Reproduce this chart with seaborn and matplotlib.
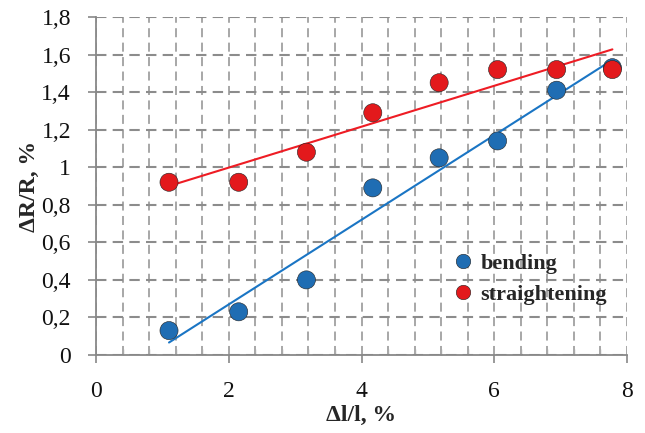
import numpy as np
import pandas as pd
import matplotlib
matplotlib.use("Agg")
import matplotlib.pyplot as plt
import seaborn as sns
from matplotlib.ticker import FuncFormatter, MultipleLocator

strain = [1.10, 2.15, 3.17, 4.17, 5.17, 6.05, 6.94, 7.78]
bending = [0.13, 0.23, 0.40, 0.89, 1.05, 1.14, 1.41, 1.53]
straightening = [0.92, 0.92, 1.08, 1.29, 1.45, 1.52, 1.52, 1.52]
series_names = ["bending", "straightening"]
colors = {"bending": "#1f6db3", "straightening": "#e3191c"}
line_colors = {"bending": "#1a75c4", "straightening": "#ee1c24"}

df = pd.DataFrame({
    "x": strain * 2,
    "y": bending + straightening,
    "series": [series_names[0]] * len(strain) + [series_names[1]] * len(strain),
})

FAM = "Liberation Serif"
sns.set_style("white")
plt.rcParams["font.family"] = [FAM, "DejaVu Serif"]

fig = plt.figure(figsize=(6.45, 4.33), dpi=100)
ax = fig.add_axes([96 / 645, 1 - 355 / 433, (627 - 96) / 645, (355 - 17) / 433])

ax.set_xlim(0, 8)
ax.set_ylim(0, 1.8)
ax.xaxis.set_major_locator(MultipleLocator(2))
ax.xaxis.set_minor_locator(MultipleLocator(0.4))
ax.yaxis.set_major_locator(MultipleLocator(0.2))

fmt = FuncFormatter(lambda v, p: f"{v:.1f}".rstrip("0").rstrip(".").replace(".", ","))
ax.yaxis.set_major_formatter(fmt)
ax.xaxis.set_major_formatter(fmt)

ax.grid(False)
ax.xaxis.grid(True, which="minor", linestyle=(0, (5, 3)), color="#a0a0a0", linewidth=1.3)
ax.xaxis.grid(True, which="major", linestyle=(0, (5, 3)), color="#a0a0a0", linewidth=1.3)
ax.yaxis.grid(True, which="major", linestyle=(0, (5, 3)), color="#8c8c8c", linewidth=1.5)
ax.set_axisbelow(True)

for name in series_names:
    sub = df[df.series == name]
    sns.regplot(data=sub, x="x", y="y", scatter=False, ci=None, truncate=True,
                ax=ax, line_kws=dict(color=line_colors[name], linewidth=1.5, zorder=3))

sns.scatterplot(data=df, x="x", y="y", hue="series", palette=colors, s=170,
                edgecolor="#222222", linewidth=0.4, ax=ax, zorder=4, legend=True)

for s in ["top", "right"]:
    ax.spines[s].set_visible(False)
for s in ["left", "bottom"]:
    ax.spines[s].set_color("#888888")
    ax.spines[s].set_linewidth(1.3)
    ax.spines[s].set_zorder(5)

ax.tick_params(axis="both", which="major", direction="out", length=6, width=1.2,
               color="#888888", labelsize=17, labelcolor="#111111", left=True, bottom=True)
ax.tick_params(axis="x", which="major", pad=13)
ax.tick_params(axis="y", which="major", pad=12)
ax.tick_params(axis="x", which="minor", direction="in", length=4, width=1, color="#aaaaaa", bottom=True)
for lab in ax.get_xticklabels() + ax.get_yticklabels():
    lab.set_fontfamily(FAM)

ax.set_xlabel("Δl/l, %", fontsize=17, fontweight="bold", labelpad=2, family=FAM)
ax.set_ylabel("ΔR/R, %", fontsize=17, fontweight="bold", labelpad=1, family=FAM)

leg = ax.legend(loc="upper left", bbox_to_anchor=(0.64, 0.328), frameon=False,
                prop=dict(weight="bold", size=16, family=FAM), handletextpad=0.0,
                handlelength=1.6, labelspacing=0.5, markerscale=0.8, borderaxespad=0)

fig.savefig("out.png", dpi=100)
